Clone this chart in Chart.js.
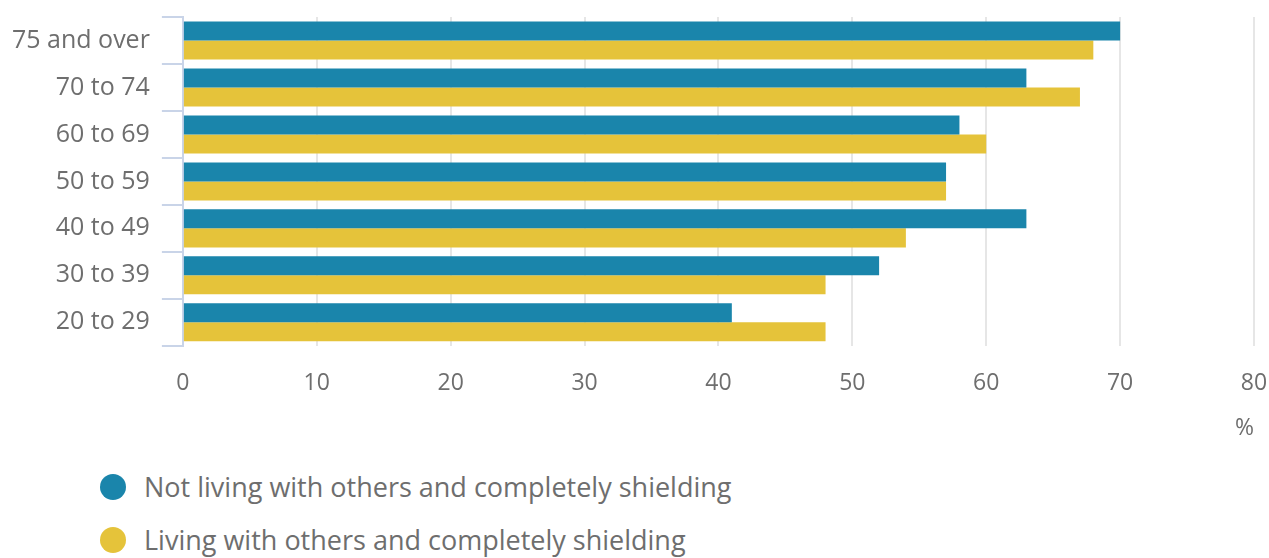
<!DOCTYPE html>
<html>
<head>
  <title>Shielding by age group</title>
  <script src="https://cdn.jsdelivr.net/npm/chart.js@4/dist/chart.umd.min.js"></script>
  <style>
    body {
      margin: 0;
      background: #fff;
      font-family: 'Open Sans', sans-serif;
      overflow: hidden;
    }

    .chart-container {
      position: relative;
      width: 1269px;
      height: 446px;
    }

    #legend {
      list-style: none;
      margin: 14px 0 0 0;
      padding: 0 0 0 100px;
    }

    #legend li {
      display: flex;
      align-items: center;
      height: 53px;
      font-size: 27px;
      color: #6e6e6e;
    }

    #legend .dot {
      width: 26px;
      height: 26px;
      border-radius: 50%;
      margin-right: 18px;
      flex: none;
    }
  </style>
</head>
<body>
  <div class="chart-container">
    <canvas id="shieldChart"></canvas>
  </div>
  <ul id="legend"></ul>

  <script>
    const ageGroups = ['75 and over', '70 to 74', '60 to 69', '50 to 59', '40 to 49', '30 to 39', '20 to 29'];
    const notLivingWithOthers = [70, 63, 58, 57, 63, 52, 41];
    const livingWithOthers = [68, 67, 60, 57, 54, 48, 48];
    const seriesNames = ['Not living with others and completely shielding', 'Living with others and completely shielding'];
    const seriesColors = ['#1a85ab', '#e5c33a'];
    const xTicks = [0, 10, 20, 30, 40, 50, 60, 70, 80];

    const textColor = '#6e6e6e';
    const axisColor = '#c9d4e8';

    // simple html legend, one row per dataset
    const htmlLegend = {
      id: 'htmlLegend',
      afterUpdate(chart) {
        const ul = document.getElementById('legend');
        ul.innerHTML = '';
        chart.data.datasets.forEach((ds) => {
          const li = document.createElement('li');
          const dot = document.createElement('span');
          dot.className = 'dot';
          dot.style.background = ds.backgroundColor;
          const txt = document.createElement('span');
          txt.textContent = ds.label;
          li.appendChild(dot);
          li.appendChild(txt);
          ul.appendChild(li);
        });
      }
    };

    const ctx = document.getElementById('shieldChart').getContext('2d');
    new Chart(ctx, {
      type: 'bar',
      data: {
        labels: ageGroups,
        datasets: [
          {
            label: seriesNames[0],
            data: notLivingWithOthers,
            backgroundColor: seriesColors[0],
            borderWidth: 0,
            categoryPercentage: 0.81,
            barPercentage: 1.0,
          },
          {
            label: seriesNames[1],
            data: livingWithOthers,
            backgroundColor: seriesColors[1],
            borderWidth: 0,
            categoryPercentage: 0.81,
            barPercentage: 1.0,
          },
        ],
      },
      options: {
        indexAxis: 'y',
        responsive: true,
        maintainAspectRatio: false,
        animation: false,
        layout: {
          padding: { top: 17, right: 15, left: 0, bottom: 4 },
        },
        plugins: {
          legend: { display: false },
          tooltip: { enabled: false },
        },
        scales: {
          x: {
            min: 0,
            max: 80,
            afterBuildTicks: (scale) => {
              scale.ticks = xTicks.map((v) => ({ value: v }));
            },
            afterFit: (scale) => {
              // keep the plot right edge on the 80 gridline
              scale.paddingLeft = 0;
              scale.paddingRight = 0;
            },
            grid: {
              color: (c) => (c.index === 0 ? 'rgba(0,0,0,0)' : '#e6e6e6'),
              lineWidth: 2,
              drawTicks: true,
              tickLength: 22,
              tickColor: 'rgba(0,0,0,0)',
            },
            border: { display: false },
            ticks: {
              color: textColor,
              font: { family: 'Open Sans', size: 23 },
              padding: 2,
            },
            title: {
              display: true,
              text: '%',
              align: 'end',
              color: textColor,
              font: { family: 'Open Sans', size: 23 },
              padding: { top: 15, bottom: 0 },
            },
          },
          y: {
            afterFit: (scale) => {
              scale.paddingTop = 0;
              scale.paddingBottom = 0;
            },
            grid: {
              drawOnChartArea: false,
              drawTicks: true,
              tickLength: 21,
              color: axisColor,
              lineWidth: 2,
            },
            border: { display: true, color: axisColor, width: 2 },
            ticks: {
              color: textColor,
              font: { family: 'Open Sans', size: 25 },
              padding: 12,
            },
          },
        },
      },
      plugins: [htmlLegend],
    });
  </script>
</body>
</html>
